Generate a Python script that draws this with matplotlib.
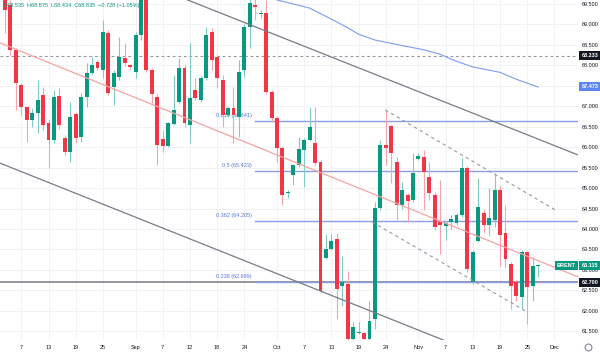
import matplotlib
matplotlib.use('Agg')
import matplotlib.pyplot as plt
import numpy as np
from matplotlib.lines import Line2D

# ---------------- data ----------------
opens = [69.75, 69.48, 68.38, 67.52, 66.98, 66.67, 66.84, 67.28, 66.59, 66.18,
         67.25, 66.23, 65.88, 66.81, 66.25, 67.23, 67.82, 68.08, 67.89, 68.79,
         67.47, 67.72, 68.18, 68.00, 67.84, 68.74, 69.70, 67.89, 67.23, 66.20,
         66.03, 66.57, 67.11, 67.94, 66.54, 67.40, 67.15, 67.69, 68.82, 68.21,
         67.64, 66.79, 66.96, 66.74, 67.89, 68.94, 69.48, 69.26, 69.28, 67.35,
         66.71, 65.98, 64.88, 65.32, 65.57, 65.93, 66.18, 66.10, 65.64, 63.29,
         63.51, 63.75, 62.61, 62.66, 61.30, 61.45, 61.45, 61.30, 61.80, 64.51,
         66.05, 66.52, 65.64, 64.59, 64.83, 64.71, 65.71, 65.76, 65.27, 64.83,
         64.17, 64.07, 64.17, 64.15, 64.34, 65.49, 62.71, 63.71, 64.39, 64.10,
         64.22, 64.95, 63.90, 63.15, 62.71, 62.34, 63.44, 62.61, 63.10]
highs = [69.85, 69.60, 68.42, 67.57, 67.00, 66.96, 67.64, 67.47, 66.67, 67.40,
         67.45, 66.30, 67.11, 66.86, 67.33, 68.06, 68.21, 68.13, 69.11, 68.87,
         67.89, 68.70, 68.55, 68.03, 68.82, 69.90, 69.90, 67.94, 67.30, 66.42,
         66.62, 67.77, 68.18, 68.01, 68.55, 67.69, 67.75, 68.94, 68.92, 68.26,
         67.77, 67.00, 67.47, 68.13, 69.00, 69.65, 69.62, 69.36, 69.60, 67.40,
         66.76, 66.03, 64.95, 65.60, 66.25, 66.23, 66.98, 66.98, 65.69, 63.88,
         63.88, 63.90, 63.34, 62.97, 61.73, 61.73, 61.48, 62.24, 64.66, 66.18,
         66.91, 66.54, 65.76, 65.15, 64.88, 65.86, 65.86, 65.93, 65.64, 64.91,
         65.20, 64.20, 64.34, 64.40, 65.74, 65.55, 63.49, 65.25, 64.50, 65.00,
         65.37, 65.08, 64.59, 63.20, 62.75, 63.49, 63.46, 63.32, 63.15]
lows = [68.79, 68.26, 66.91, 66.79, 66.13, 66.49, 66.35, 66.42, 65.49, 66.10,
        66.45, 65.81, 65.64, 66.10, 66.13, 66.98, 67.77, 67.89, 67.69, 67.28,
        67.03, 67.64, 67.99, 67.92, 67.69, 68.62, 67.84, 67.08, 65.57, 65.88,
        66.00, 66.54, 67.06, 66.49, 66.10, 67.15, 67.10, 67.64, 67.89, 67.45,
        66.49, 66.74, 66.10, 66.25, 67.72, 68.43, 69.11, 69.16, 67.30, 66.62,
        65.64, 64.59, 64.76, 65.08, 65.52, 65.03, 66.15, 65.57, 62.45, 63.27,
        63.49, 61.80, 62.12, 61.20, 61.25, 61.43, 61.25, 61.25, 61.56, 64.47,
        65.57, 65.13, 64.22, 64.50, 64.17, 64.66, 65.69, 64.47, 64.71, 63.98,
        63.39, 63.73, 64.00, 64.10, 64.30, 62.95, 62.66, 63.68, 63.90, 63.85,
        64.05, 63.10, 63.07, 62.05, 62.24, 62.05, 61.68, 62.24, 62.83]
closes = [69.36, 68.38, 67.57, 66.98, 66.67, 66.84, 67.15, 66.54, 66.18, 67.23,
          66.54, 65.88, 66.74, 66.23, 67.23, 67.82, 68.01, 67.94, 68.82, 67.33,
          67.82, 68.21, 68.06, 67.96, 68.74, 69.75, 67.89, 67.30, 66.05, 66.03,
          66.59, 66.91, 67.94, 66.59, 67.20, 67.20, 67.69, 68.74, 68.13, 67.69,
          66.79, 66.96, 66.79, 67.84, 68.94, 69.53, 69.43, 69.29, 67.35, 66.71,
          65.98, 64.83, 64.91, 65.57, 65.96, 66.18, 66.49, 65.61, 62.49, 63.51,
          63.71, 62.53, 62.71, 61.30, 61.60, 61.48, 61.30, 61.75, 64.51, 66.05,
          65.98, 65.86, 64.59, 64.95, 64.69, 65.37, 65.79, 65.39, 64.88, 64.05,
          64.10, 64.15, 64.25, 64.34, 65.49, 63.02, 63.44, 64.54, 64.10, 64.27,
          64.95, 63.85, 63.27, 62.61, 62.36, 63.44, 62.58, 63.10, 63.12]

xtick_pos = [3, 8, 13, 18, 24, 29, 34, 39, 44, 50, 55, 60, 65, 70, 76, 81, 86, 91, 96, 101]
xtick_labels = ['7', '13', '19', '25', 'Sep', '7', '12', '18', '24', 'Oct',
                '7', '13', '19', '24', 'Nov', '7', '13', '19', '25', 'Dec']
ytick_vals = [61.5, 62.0, 62.5, 63.0, 63.5, 64.0, 64.5, 65.0, 65.5, 66.0,
              66.5, 67.0, 67.5, 68.0, 68.5, 69.0, 69.5]

ma_idx = [48, 50, 53, 56, 60, 63, 65, 68, 72, 77, 80, 83, 86, 91, 94, 98]
ma_val = [69.68, 69.60, 69.50, 69.40, 69.13, 68.92, 68.76, 68.62, 68.51, 68.38,
          68.27, 68.10, 67.96, 67.83, 67.66, 67.47]

fib_levels = ['0.618', '0.5', '0.382', '0.236']
fib_prices = [66.641, 65.423, 64.205, 62.699]

chan_x = [-0.92, 105.33]
chan_upper = [71.42, 65.81]
chan_mid = [68.55, 62.83]
chan_lower = [65.61, 59.97]

dash_up_x = [69.9, 101.1]
dash_up_y = [66.91, 64.47]
dash_lo_x = [67.5, 96.0]
dash_lo_y = [64.17, 61.97]

prev_close = 68.233
support = 62.700
ma_last = 67.473
last_price = 63.115
legend_text = 'O68.535  H68.875  L68.434  C68.835  \u22120.728 (\u22121.05%)'

# ---------------- styling ----------------
GREEN = '#089981'
RED = '#F23645'
GREEN_W = '#7fcdc0'
RED_W = '#f7a3aa'
FONT = 'Liberation Sans'
plt.rcParams['font.family'] = [FONT, 'DejaVu Sans']

fig = plt.figure(figsize=(6, 3.54), dpi=100)
fig.patch.set_facecolor('white')
ax = fig.add_axes([0, 14 / 354, 578 / 600, 340 / 354])
ax.set_facecolor('white')

xmin, xmax = -0.92, 105.33
ymin, ymax = 61.285, 69.598
ax.set_xlim(xmin, xmax)
ax.set_ylim(ymin, ymax)

# grid
for yv in ytick_vals:
    ax.axhline(yv, color='#f0f2f6', lw=0.7, zorder=0)
for xv in xtick_pos:
    ax.axvline(xv, color='#f0f2f6', lw=0.7, zorder=0)

# horizontal reference lines
ax.axhline(prev_close, color='#9598a1', lw=0.8, ls=(0, (2.5, 2.5)), zorder=2)
ax.axhline(support, color='#787b86', lw=1.1, zorder=2)

# fibonacci levels
for lvl, pr in zip(fib_levels, fib_prices):
    ax.plot([46, xmax], [pr, pr], color='#8c9ee3', lw=1.0, zorder=2)
    ax.annotate(f'{lvl} ({pr:.3f})', xy=(45.4, pr), xytext=(0, 2.2),
                textcoords='offset points', ha='right', va='bottom',
                fontsize=4, color='#5b78d6', zorder=2)

# candles
idx = np.arange(len(opens))
o = np.array(opens); c = np.array(closes); h = np.array(highs); l = np.array(lows)
up = c >= o
body_col = [GREEN if u else RED for u in up]
wick_col = [GREEN_W if u else RED_W for u in up]
ax.vlines(idx, l, h, colors=wick_col, lw=0.8, zorder=3)
bottom = np.minimum(o, c)
height = np.maximum(np.abs(c - o), 0.03)
ax.bar(idx, height, 0.72, bottom=bottom, color=body_col, linewidth=0, zorder=4)

# channel lines
ax.plot(chan_x, chan_upper, color='#787b86', lw=0.9, zorder=5)
ax.plot(chan_x, chan_lower, color='#787b86', lw=0.9, zorder=5)
ax.plot(chan_x, chan_mid, color='#f4a3a3', lw=0.9, zorder=5)
ax.plot(dash_up_x, dash_up_y, color='#9598a1', lw=0.8, ls=(0, (3, 3)), zorder=5)
ax.plot(dash_lo_x, dash_lo_y, color='#9598a1', lw=0.8, ls=(0, (3, 3)), zorder=5)

# moving average
ax.plot(ma_idx, ma_val, color='#7b9cf0', lw=0.8, zorder=5)

# axes / ticks
for sp in ax.spines.values():
    sp.set_visible(False)
ax.set_xticks(xtick_pos)
ax.set_xticklabels(xtick_labels, fontsize=4, color='#131722')
ax.yaxis.tick_right()
ax.set_yticks(ytick_vals)
ax.set_yticklabels([f'{v:.3f}' for v in ytick_vals], fontsize=4, color='#131722')
ax.tick_params(axis='x', length=0, pad=3.5)
ax.tick_params(axis='y', length=0, pad=3)

# right-side price labels
def price_box(price, text, fc):
    ax.annotate(text, xy=(1, price), xycoords=('axes fraction', 'data'),
                xytext=(2.4, 0), textcoords='offset points', ha='left', va='center',
                fontsize=4, color='white', fontweight='bold', annotation_clip=False,
                bbox=dict(boxstyle='square,pad=0.35', fc=fc, ec='none'), zorder=10)

price_box(prev_close, f'{prev_close:.3f}', '#131722')
price_box(ma_last, f'{ma_last:.3f}', '#5d87f0')
price_box(last_price, f'{last_price:.3f}', GREEN)
price_box(support, f'{support:.3f}', '#131722')
ax.annotate('BRENT', xy=(1, last_price), xycoords=('axes fraction', 'data'),
            xytext=(-1.5, 0), textcoords='offset points', ha='right', va='center',
            fontsize=4, color='white', fontweight='bold', annotation_clip=False,
            bbox=dict(boxstyle='square,pad=0.35', fc=GREEN, ec='none'), zorder=10)

# legend text (top-left)
fig.text(3 / 600, 1 - 5 / 354, legend_text, fontsize=4, color=GREEN,
         ha='left', va='center', zorder=20)

# settings icon bottom-right
fig.add_artist(Line2D([588 / 600], [1 - 347 / 354], marker='o', mfc='none',
                      mec='#787b86', ms=5, mew=0.7, transform=fig.transFigure))

fig.savefig('out.png', dpi=100, facecolor='white')
